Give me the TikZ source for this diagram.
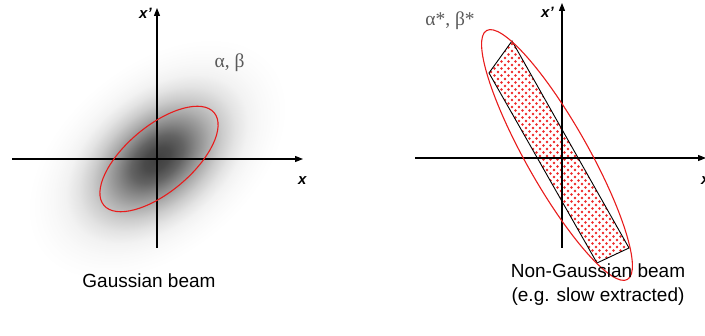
\documentclass[tikz,border=0pt]{standalone}
\usepackage{fontspec}
\setmainfont{Liberation Sans}
\newfontfamily\greekfont{Liberation Serif}
\usetikzlibrary{
    arrows.meta
}
\definecolor{beamred}{RGB}{232,28,28}
\definecolor{dotred}{RGB}{238,40,40}
\definecolor{parmgray}{RGB}{90,90,90}
\pgfdeclareradialshading{beamcore}{\pgfpoint{0bp}{0bp}}{color(0bp)=(black!75); color(2.5bp)=(black!71); color(5bp)=(black!61); color(7.5bp)=(black!46); color(10bp)=(black!32); color(12.5bp)=(black!20); color(15bp)=(black!11); color(17.5bp)=(black!5); color(20bp)=(black!2.5); color(22.5bp)=(black!1); color(25bp)=(white); color(50bp)=(white)}

\begin{document}
\begin{tikzpicture}[x=1pt, y=1pt,
      axis/.style={line width=1.1pt, -{Triangle[length=8pt, width=6pt]}},
      axlabel/.style={font=\fontsize{15}{18}\selectfont\bfseries\itshape, inner sep=0pt, anchor=base west},
      parm/.style={font=\fontsize{19.5}{22}\selectfont\greekfont, text=parmgray, inner sep=0pt, anchor=base},
      caption/.style={font=\fontsize{19}{24}\selectfont, align=center, inner sep=0pt},
      emit/.style={draw=beamred, line width=1.1pt}]
    \useasboundingbox (0,0) rectangle (705,336);
    % left: gaussian beam
    \coordinate (O1) at (157,177);
    \coordinate (xl1) at (12,177);
    \coordinate (xr1) at (303,177);
    \coordinate (yb1) at (157,88);
    \coordinate (yt1) at (157,328);
    \begin{scope}[transform canvas={shift={(157,177)}, rotate=40}]
      \shade[shading=beamcore] (0,0) ellipse (150 and 95);
    \end{scope}
    \draw[axis] (xl1) -- (xr1);
    \draw[axis] (yb1) -- (yt1);
    \draw[emit, rotate around={40:(159,177)}] (159,177) ellipse (72 and 33);
    \node[axlabel] (xlab1) at (298,151) {x};
    \node[axlabel] (plab1) at (139,317) {x'};
    \node[parm] (ab1) at (229.5,268) {α, β};
    \node[caption, anchor=base] (gcap) at (149,48) {Gaussian beam};
    % right: non-gaussian beam
    \coordinate (O2) at (562,178);
    \coordinate (xl2) at (415,178);
    \coordinate (xr2) at (706,178);
    \coordinate (yb2) at (562,88);
    \coordinate (yt2) at (562,333);
    \coordinate (ra) at (512,295);
    \coordinate (rb) at (489,263);
    \coordinate (rc) at (597,73);
    \coordinate (rd) at (629,88);
    \begin{scope}
      \clip (ra) -- (rb) -- (rc) -- (rd) -- cycle;
      \foreach \j in {0,...,68}
        \foreach \i in {0,...,21}
          \fill[dotred] ({484+7*\i+3.5*mod(\j,2)}, {68+3.5*\j}) circle (1.35);
    \end{scope}
    \draw[line width=0.9pt] (ra) -- (rb) -- (rc) -- (rd) -- cycle;
    \draw[axis] (xl2) -- (xr2);
    \draw[axis] (yb2) -- (yt2);
    \draw[emit, rotate around={-60.5:(557,181)}] (557,181) ellipse (143 and 31);
    \node[axlabel] (xlab2) at (701,151) {x};
    \node[axlabel] (plab2) at (541,318) {x'};
    \node[parm] (ab2) at (450,310) {α*, β*};
    \node[caption, anchor=base] (ngcap) at (598,34) {Non-Gaussian beam\\(e.g. slow extracted)};
  \end{tikzpicture}
\end{document}
